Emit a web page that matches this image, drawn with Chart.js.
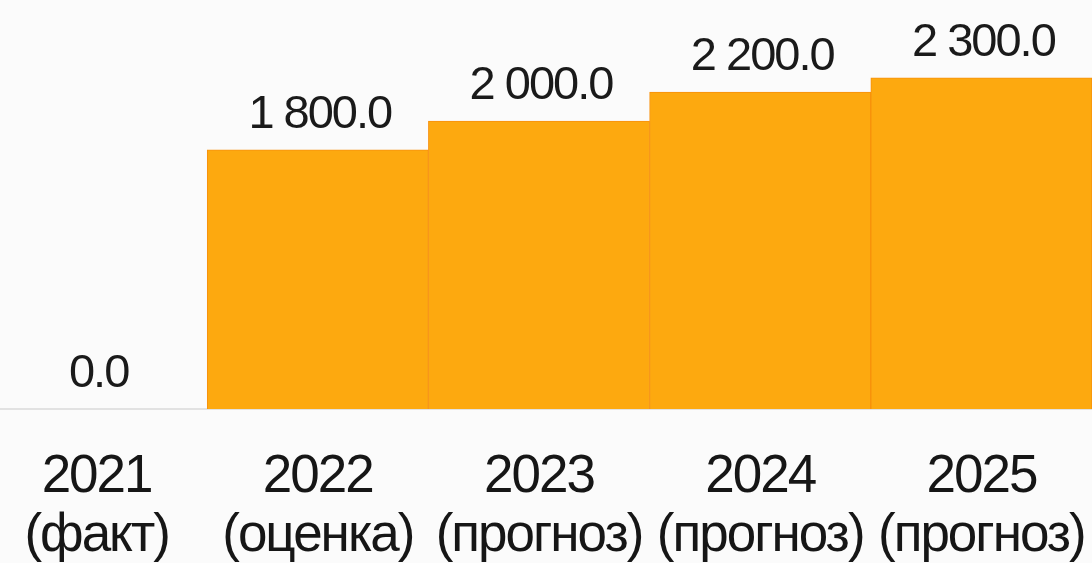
<!DOCTYPE html>
<html>
<head>
<meta charset="utf-8">
<script src="https://cdn.jsdelivr.net/npm/chart.js@4"></script>
<style>
  html, body { margin: 0; padding: 0; background: #fbfbfb; overflow: hidden; }
  #wrap { position: absolute; left: -14px; top: 0; width: 1106px; height: 563px; }
</style>
</head>
<body>
<div id="wrap"><canvas id="chart"></canvas></div>
<script>
const years = ["2021", "2022", "2023", "2024", "2025"];
const notes = ["(факт)", "(оценка)", "(прогноз)", "(прогноз)", "(прогноз)"];
const values = [0, 1800, 2000, 2200, 2300];

const ctx = document.getElementById("chart");

function fmt(v) {
  const parts = v.toFixed(1).split(".");
  return parts[0].replace(/\B(?=(\d{3})+(?!\d))/g, " ") + "." + parts[1];
}

// tighter letter spacing, like the original slide
const spacing = {
  id: "spacing",
  beforeDraw(chart) {
    chart.ctx.letterSpacing = "-2px";
  },
};

const valueLabels = {
  id: "valueLabels",
  afterDatasetsDraw(chart) {
    const c = chart.ctx;
    const meta = chart.getDatasetMeta(0);
    c.save();
    c.letterSpacing = "-2px";
    c.font = "47px 'Liberation Sans', Arial, sans-serif";
    c.fillStyle = "#1a1a1a";
    c.textAlign = "center";
    c.textBaseline = "alphabetic";
    meta.data.forEach((bar, i) => {
      c.fillText(fmt(values[i]), bar.x + 2, bar.y - 22);
    });
    c.restore();
  },
};

new Chart(ctx, {
  type: "bar",
  data: {
    labels: years.map((y, i) => [y, notes[i]]),
    datasets: [
      {
        data: values,
        backgroundColor: "#fda90f",
        borderColor: "#f7900c",
        borderWidth: 1,
        categoryPercentage: 1,
        barPercentage: 1,
      },
    ],
  },
  options: {
    responsive: true,
    maintainAspectRatio: false,
    animation: false,
    layout: { padding: 0 },
    plugins: {
      legend: { display: false },
      tooltip: { enabled: false },
    },
    scales: {
      x: {
        grid: { display: false, drawTicks: false },
        border: { display: true, color: "#e2e2e2", width: 2 },
        ticks: {
          color: "#161616",
          font: { family: "'Liberation Sans', Arial, sans-serif", size: 53, lineHeight: 1.13 },
          padding: 38,
          autoSkip: false,
          maxRotation: 0,
        },
        afterFit(scale) {
          scale.height = 154;
          scale.paddingLeft = 0;
          scale.paddingRight = 0;
        },
      },
      y: {
        display: false,
        min: 0,
        max: 2840,
      },
    },
  },
  plugins: [spacing, valueLabels],
});
</script>
</body>
</html>
